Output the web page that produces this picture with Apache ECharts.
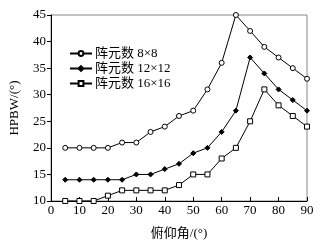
<!DOCTYPE html>
<html>
<head>
<meta charset="utf-8">
<script src="https://cdn.jsdelivr.net/npm/echarts@6/dist/echarts.min.js"></script>
<style>
html, body { margin: 0; padding: 0; background: #fff; }
#main { width: 329px; height: 245px; }
</style>
</head>
<body>
<div id="main"></div>
<script>
var angles = [5, 10, 15, 20, 25, 30, 35, 40, 45, 50, 55, 60, 65, 70, 75, 80, 85, 90];
var hpbw8 = [20, 20, 20, 20, 21, 21, 23, 24, 26, 27, 31, 36, 45, 42, 39, 37, 35, 33];
var hpbw12 = [14, 14, 14, 14, 14, 15, 15, 16, 17, 19, 20, 23, 27, 37, 34, 31, 29, 27];
var hpbw16 = [10, 10, 10, 11, 12, 12, 12, 12, 13, 15, 15, 18, 20, 25, 31, 28, 26, 24];
var seriesNames = ['阵元数 8×8', '阵元数 12×12', '阵元数 16×16'];

var font = '"Liberation Serif", "Noto Sans CJK SC", serif';

function pairs(ys) {
	var out = [];
	for (var i = 0; i < angles.length; i++) out.push([angles[i], ys[i]]);
	return out;
}

function makeSeries(name, ys, symbol, size, fill) {
	return {
		name: name,
		type: 'line',
		data: pairs(ys),
		symbol: symbol,
		symbolSize: size,
		showAllSymbol: true,
		lineStyle: { color: '#000', width: 1 },
		itemStyle: { color: fill, borderColor: '#000', borderWidth: 1 },
		emphasis: { disabled: true },
		animation: false
	};
}

var chart = echarts.init(document.getElementById('main'));
chart.setOption({
	backgroundColor: '#fff',
	animation: false,
	grid: { left: 46, right: 22, top: 15, bottom: 40, show: true, borderColor: '#888', borderWidth: 1 },
	legend: {
		left: 64,
		top: 42,
		orient: 'vertical',
		itemGap: 2,
		itemWidth: 22,
		itemHeight: 6,
		textStyle: { fontFamily: font, fontSize: 13, color: '#000', padding: [0, 0, 0, -2] },
		data: seriesNames
	},
	xAxis: {
		type: 'value',
		min: 0,
		max: 90,
		interval: 10,
		name: '俯仰角/(°)',
		nameLocation: 'middle',
		nameGap: 26,
		nameTextStyle: { fontFamily: font, fontSize: 13, color: '#000' },
		axisLine: { lineStyle: { color: '#000' } },
		axisTick: { inside: true, length: 4, lineStyle: { color: '#000' } },
		axisLabel: { fontFamily: font, fontSize: 13, color: '#000', margin: 3 },
		splitLine: { show: false }
	},
	yAxis: {
		type: 'value',
		min: 10,
		max: 45,
		interval: 5,
		name: 'HPBW/(°)',
		nameLocation: 'middle',
		nameGap: 30,
		nameTextStyle: { fontFamily: font, fontSize: 13, color: '#000' },
		axisLine: { show: true, lineStyle: { color: '#000' } },
		axisTick: { show: true, inside: false, length: 4, lineStyle: { color: '#000' } },
		axisLabel: { fontFamily: font, fontSize: 13, color: '#000', margin: 5 },
		splitLine: { show: false }
	},
	series: [
		makeSeries(seriesNames[0], hpbw8, 'circle', 5, '#fff'),
		makeSeries(seriesNames[1], hpbw12, 'diamond', 5, '#000'),
		makeSeries(seriesNames[2], hpbw16, 'rect', 5, '#fff')
	]
});
</script>
</body>
</html>
